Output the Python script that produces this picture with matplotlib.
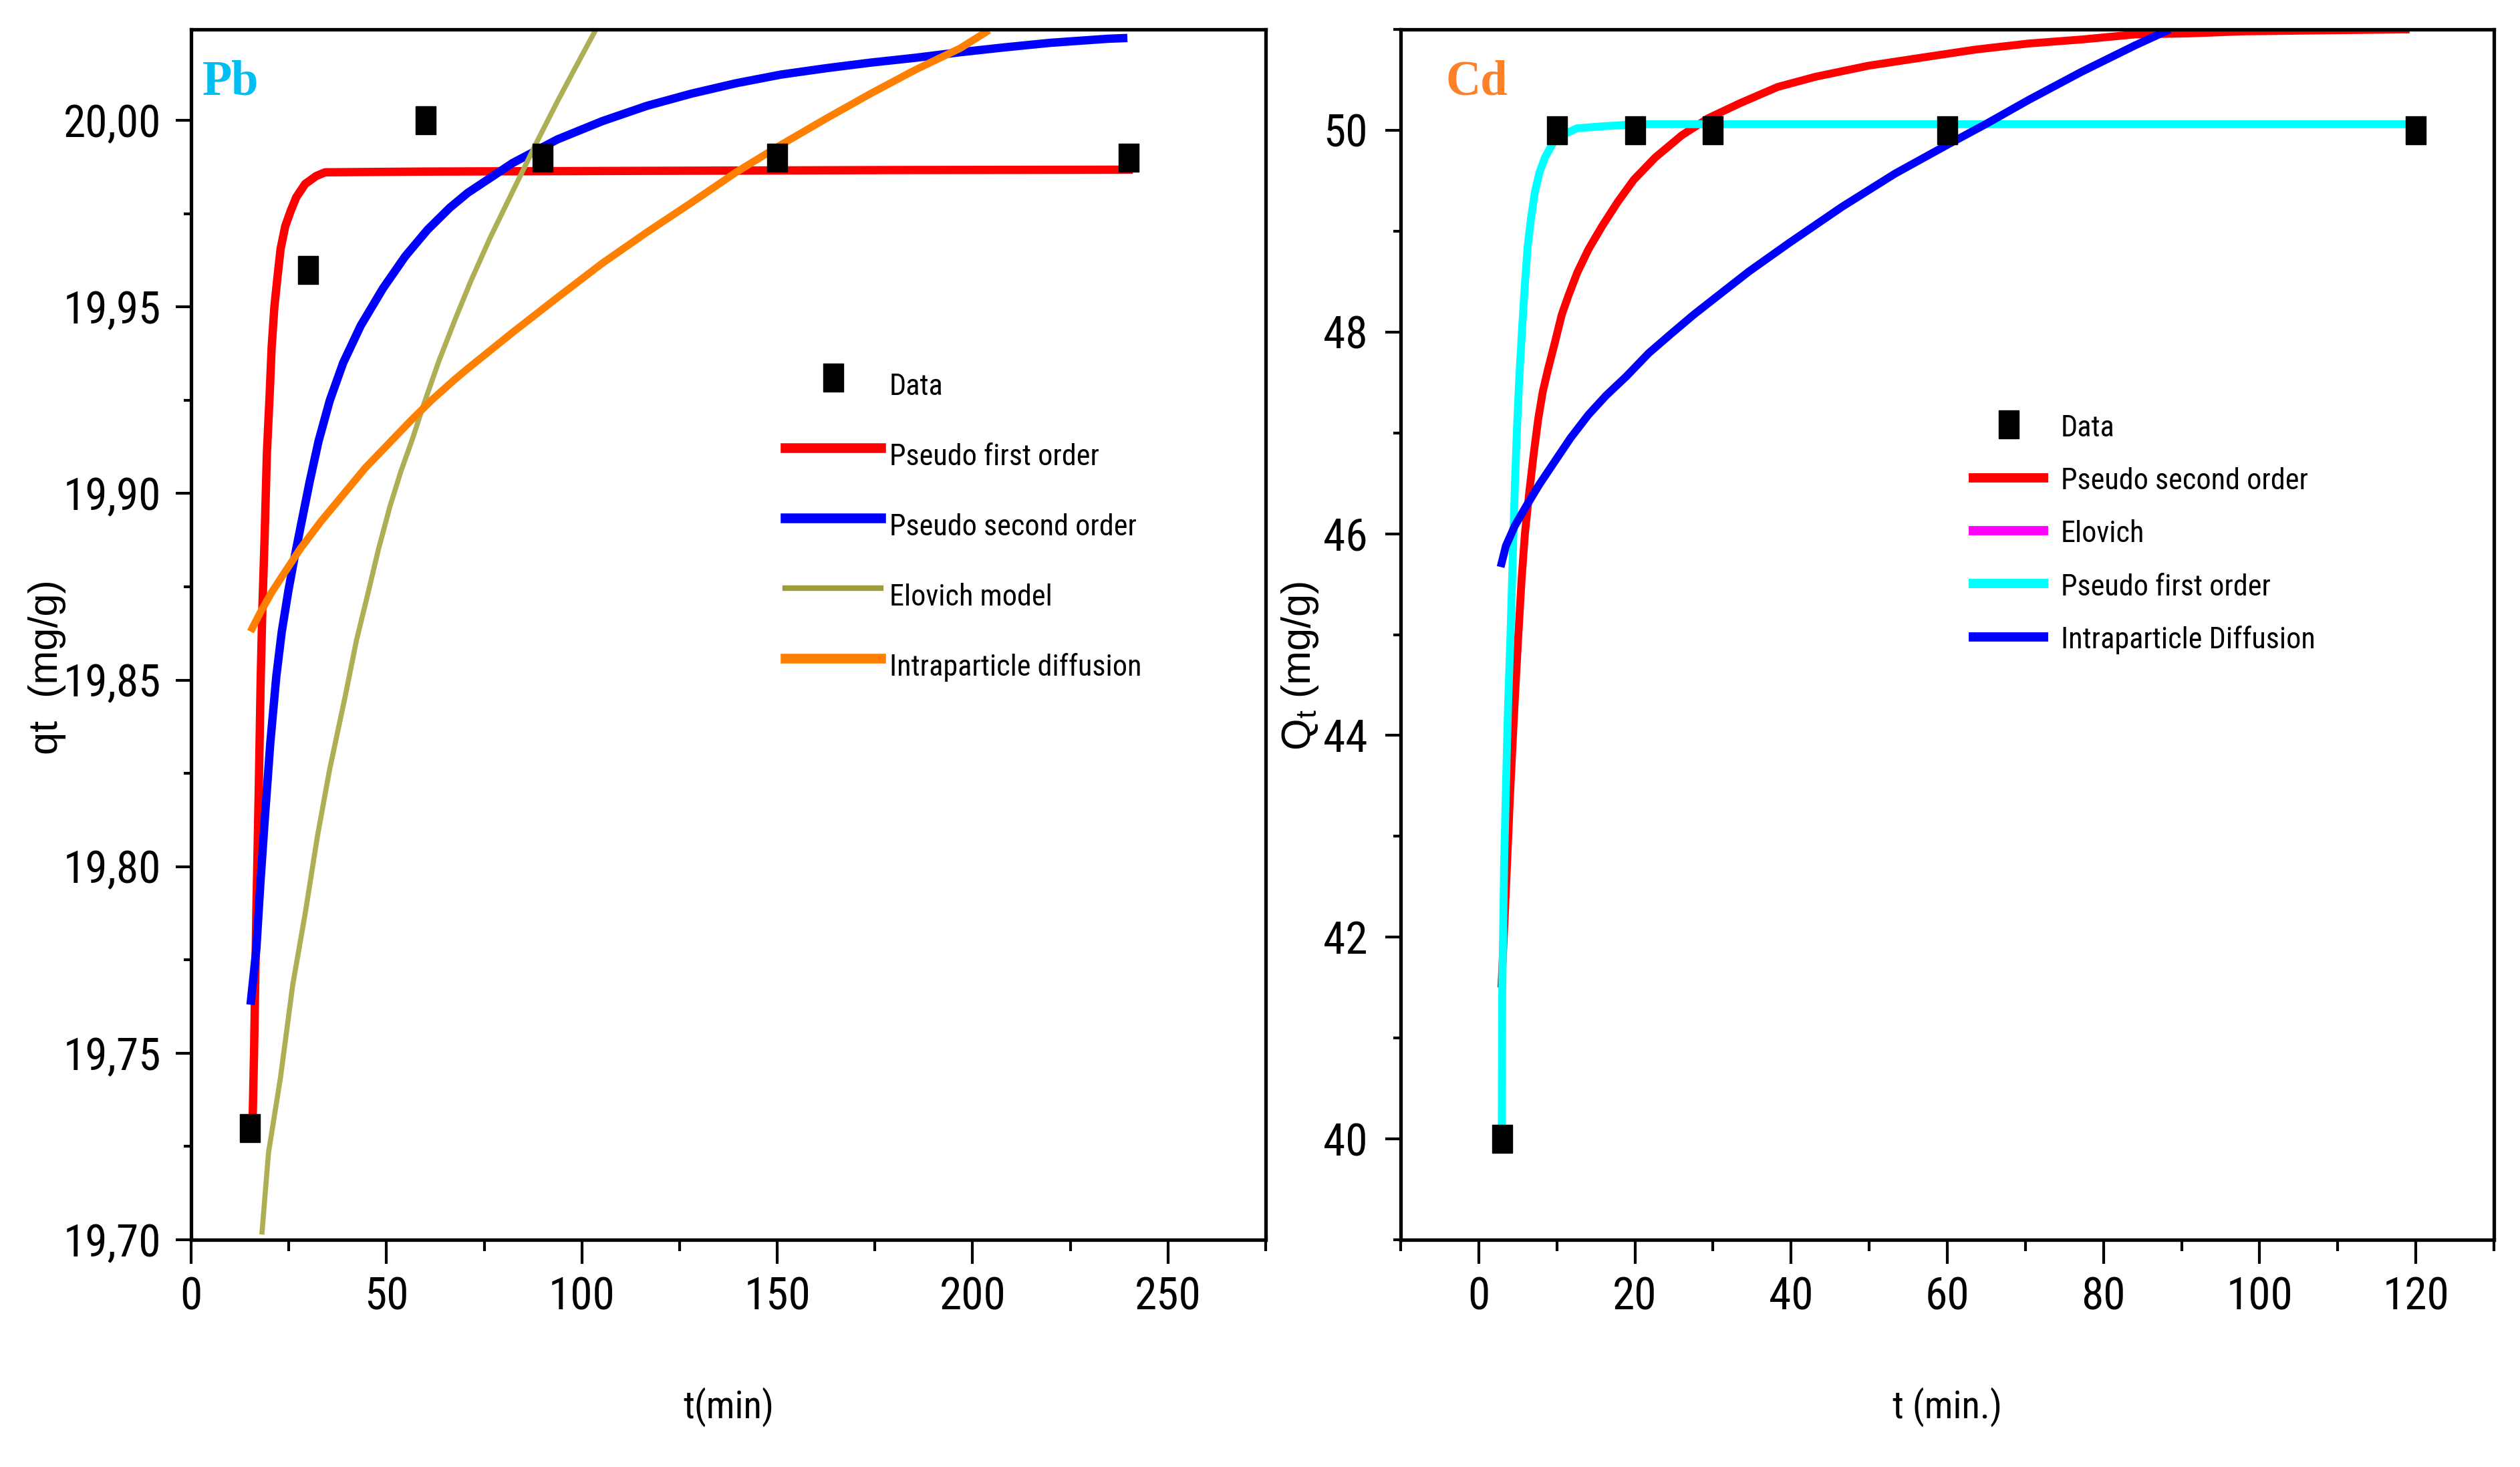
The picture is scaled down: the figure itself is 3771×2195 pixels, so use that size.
import matplotlib
matplotlib.use("Agg")
import matplotlib.pyplot as plt
from matplotlib import font_manager
from matplotlib.font_manager import FontProperties
from matplotlib.textpath import TextPath
from matplotlib.lines import Line2D
from matplotlib.ticker import MultipleLocator, FixedLocator, FixedFormatter

# ---------------- data ----------------
# Pb panel
pb_t = [15, 30, 60, 90, 150, 240]
pb_q = [19.73, 19.96, 20.00, 19.99, 19.99, 19.99]

pb_pfo_t = [15.3, 15.7, 16.1, 16.7, 17.3, 17.8, 18.2, 18.8, 19.4, 20.1, 20.6, 21.3, 22.1,
            22.9, 24.1, 25.5, 26.9, 29.2, 32.0, 34.3, 60, 120, 180, 241]
pb_pfo_q = [19.728, 19.730, 19.750, 19.788, 19.820, 19.850, 19.868, 19.888, 19.911, 19.9265,
            19.939, 19.950, 19.958, 19.9656, 19.9717, 19.9758, 19.9794, 19.983, 19.9851,
            19.9861, 19.9863, 19.9865, 19.9867, 19.9868]

pb_pso_t = [15.2, 16.7, 17.75, 18.8, 20.25, 21.8, 23.2, 24.9, 26.3, 28.0, 30.3, 32.6, 35.5,
            38.9, 43.4, 49.1, 54.8, 60.5, 66.2, 70.8, 82.3, 93.7, 105.2, 116.6, 128.1, 139.6,
            151.0, 162.5, 173.9, 185.4, 196.9, 208.3, 219.8, 234.7, 239.6]
pb_pso_q = [19.763, 19.778, 19.796, 19.812, 19.833, 19.851, 19.863, 19.874, 19.882, 19.891,
            19.903, 19.914, 19.925, 19.935, 19.945, 19.955, 19.9636, 19.9707, 19.9766, 19.9806,
            19.9886, 19.9949, 19.9998, 20.0039, 20.0072, 20.0100, 20.0123, 20.0140, 20.0155,
            20.0168, 20.0183, 20.0196, 20.0208, 20.0219, 20.0221]

pb_elo_t = [18.1, 19.8, 22.9, 26.0, 29.2, 32.3, 35.4, 39.5, 42.3, 45.2, 48.0, 50.9, 53.7,
            56.6, 59.4, 63.4, 67.5, 71.6, 76.5, 82.3, 88.6, 93.7, 98.0, 103.6]
pb_elo_q = [19.7014, 19.7233, 19.7437, 19.7683, 19.7875, 19.808, 19.8258, 19.846, 19.8606,
            19.873, 19.8853, 19.8966, 19.906, 19.9145, 19.9235, 19.9355, 19.9465, 19.957,
            19.9685, 19.981, 19.9945, 20.005, 20.0135, 20.0244]

pb_ipd_t = [15.2, 17.8, 20.6, 24.1, 28.0, 33.2, 38.9, 44.6, 50.3, 56.0, 61.7, 67.4, 70.8,
            82.3, 93.7, 105.2, 116.6, 128.1, 139.6, 151.0, 162.5, 173.9, 185.4, 196.9, 204.2]
pb_ipd_q = [19.863, 19.8683, 19.8735, 19.8791, 19.8853, 19.8925, 19.8997, 19.9069, 19.9131,
            19.9193, 19.9252, 19.9305, 19.9335, 19.9432, 19.9525, 19.9617, 19.970, 19.978,
            19.9862, 19.9935, 20.0005, 20.0072, 20.0136, 20.0194, 20.0242]

# Cd panel
cd_t = [3, 10, 20, 30, 60, 120]
cd_q = [40.0, 50.0, 50.0, 50.0, 50.0, 50.0]

cd_pso_t = [2.9, 3.5, 4.0, 4.6, 5.05, 5.48, 5.91, 6.48, 7.05, 7.62, 8.2, 8.9, 9.76, 10.62,
            11.48, 12.62, 14.05, 15.8, 17.8, 19.86, 22.6, 26.0, 29.4, 33.5, 38.3, 43.1, 49.9,
            56.7, 63.6, 70.4, 77.2, 84.0, 90.9, 97.7, 107.9, 119.2]
cd_pso_q = [41.5, 42.5, 43.4, 44.33, 44.97, 45.54, 46.0, 46.42, 46.8, 47.14, 47.41, 47.64,
            47.90, 48.17, 48.36, 48.59, 48.82, 49.05, 49.29, 49.51, 49.73, 49.95, 50.12, 50.27,
            50.43, 50.53, 50.64, 50.72, 50.80, 50.86, 50.90, 50.95, 50.96, 50.98, 50.99, 51.0]

cd_pfo_t = [2.95, 3.0, 3.25, 3.6, 3.77, 4.05, 4.34, 4.63, 4.91, 5.2, 5.54, 5.91, 6.28, 6.68,
            7.19, 7.77, 8.48, 9.48, 10.9, 12.6, 16.0, 20.3, 60, 120]
cd_pfo_q = [40.1, 41.42, 42.74, 43.85, 44.33, 44.97, 45.73, 46.49, 47.07, 47.56, 48.02, 48.48,
            48.86, 49.12, 49.39, 49.58, 49.73, 49.87, 49.96, 50.02, 50.04, 50.06, 50.06, 50.06]

cd_ipd_t = [2.8, 3.48, 4.63, 6.05, 7.77, 9.76, 11.76, 14.05, 16.3, 18.9, 21.76, 24.6, 27.5,
            30.3, 34.6, 39.7, 46.5, 53.3, 60.1, 64.9, 70.4, 77.2, 84.0, 88.5]
cd_ipd_q = [45.67, 45.88, 46.08, 46.27, 46.49, 46.72, 46.95, 47.18, 47.37, 47.56, 47.79, 47.98,
            48.17, 48.34, 48.60, 48.88, 49.24, 49.57, 49.86, 50.06, 50.30, 50.58, 50.84, 51.0]

pb_yticks = [19.70, 19.75, 19.80, 19.85, 19.90, 19.95, 20.00]
pb_ylabels = ['19,70', '19,75', '19,80', '19,85', '19,90', '19,95', '20,00']

pb_legend = ['Data', 'Pseudo first order', 'Pseudo second order', 'Elovich model',
             'Intraparticle diffusion']
cd_legend = ['Data', 'Pseudo second order', 'Elovich', 'Pseudo first order',
             'Intraparticle Diffusion']

# ---------------- fonts ----------------
entries = font_manager.fontManager.ttflist
names = {f.name for f in entries}
narrow = None
for cand in ['Liberation Sans Narrow', 'Arial Narrow', 'Roboto Condensed',
             'Noto Sans Condensed', 'DejaVu Sans Condensed', 'Open Sans Condensed']:
    if cand in names:
        narrow = FontProperties(family=cand)
        break
if narrow is None:
    for f in entries:
        if f.stretch in ('condensed', 'semi-condensed') and f.style == 'normal' \
                and str(f.weight) in ('400', 'normal', 'regular'):
            narrow = FontProperties(family=f.name, stretch=f.stretch)
            break
if narrow is None:
    narrow = FontProperties(family='Liberation Sans')

plt.rcParams['font.family'] = [narrow.get_family()[0], 'DejaVu Sans']
plt.rcParams['font.stretch'] = narrow.get_stretch()
plt.rcParams['mathtext.fontset'] = 'custom'
plt.rcParams['mathtext.rm'] = 'Liberation Sans'
plt.rcParams['mathtext.it'] = 'Liberation Sans:italic'


def fit_size(text, prop, width_px, height_px, ref_char, cap=1.05):
    # font size (pt, dpi 100) that balances the target ink width and height
    w = TextPath((0, 0), text, size=100, prop=prop).get_extents().width
    h = TextPath((0, 0), ref_char, size=100, prop=prop).get_extents().height
    sw = 100 * width_px * 0.72 / w
    sh = 100 * height_px * 0.72 / h
    return min((sw * sh) ** 0.5, sw * cap)


TICK_FS = fit_size('20,00', narrow, 134, 56, '0', cap=1.04)
XLAB_FS = fit_size('t(min)', narrow, 126, 61, '(', cap=1.08)
LEG_FS = fit_size('Pseudo second order', narrow, 345, 35, 'P', cap=1.06)
serif_b = FontProperties(family='Liberation Serif', weight='bold')
TAG_FS = fit_size('Pb', serif_b, 70, 57, 'P', cap=1.15)
YLAB_FS = 44

# rectangle marker, taller than wide
rect = [(-0.357, -0.5), (0.357, -0.5), (0.357, 0.5), (-0.357, 0.5), (-0.357, -0.5)]
MS = 30

fig = plt.figure(figsize=(37.71, 21.95), dpi=100)
AX_BOTTOM, AX_H = 1855, 1811
ax1 = fig.add_axes([286 / 3771, 1 - AX_BOTTOM / 2195, 1608 / 3771, AX_H / 2195])
ax2 = fig.add_axes([2096 / 3771, 1 - AX_BOTTOM / 2195, 1636 / 3771, AX_H / 2195])


def style_axes(ax, ypad):
    for sp in ax.spines.values():
        sp.set_linewidth(3.8)
    ax.tick_params(axis='both', which='both', direction='out', top=False, right=False,
                   width=3, labelsize=TICK_FS)
    ax.tick_params(axis='x', which='major', length=26, pad=13)
    ax.tick_params(axis='x', which='minor', length=12.5)
    ax.tick_params(axis='y', which='major', length=16.5, pad=ypad)
    ax.tick_params(axis='y', which='minor', length=8)


def legend_layout(line_above_px, pitch_px, baseline_px):
    # handleheight / labelspacing / top anchor for given row geometry (pixels)
    F = LEG_FS / 0.72
    H = max((line_above_px / F - 0.245) / 0.15, 0.7)
    row = max(F * (0.65 * H + 0.245), F)
    ls = (pitch_px - row) / F
    top = baseline_px - max(2 * line_above_px, 0.86 * F)
    return H, ls, (AX_BOTTOM - top) / AX_H, F


# ---------------- Pb ----------------
ax1.plot(pb_pfo_t, pb_pfo_q, color='#FF0000', lw=9, solid_capstyle='butt')
ax1.plot(pb_pso_t, pb_pso_q, color='#0000FF', lw=9, solid_capstyle='butt')
ax1.plot(pb_elo_t, pb_elo_q, color='#AEAE55', lw=5.5, solid_capstyle='butt')
ax1.plot(pb_ipd_t, pb_ipd_q, color='#FF8000', lw=8, solid_capstyle='butt')
ax1.plot(pb_t, pb_q, ls='none', marker=rect, ms=MS, color='black', zorder=5)

ax1.set_xlim(0, 275)
ax1.set_ylim(19.70, 20.0244)
ax1.xaxis.set_major_locator(MultipleLocator(50))
ax1.xaxis.set_minor_locator(MultipleLocator(25))
ax1.yaxis.set_major_locator(FixedLocator(pb_yticks))
ax1.yaxis.set_major_formatter(FixedFormatter(pb_ylabels))
ax1.yaxis.set_minor_locator(MultipleLocator(0.025))
style_axes(ax1, 16)

ax1.set_xlabel('t(min)', fontsize=XLAB_FS, va='center')
ax1.xaxis.set_label_coords(0.5, -0.138)
ax1.set_ylabel('qt  (mg/g)', fontsize=YLAB_FS, family='Liberation Sans', va='center')
ax1.yaxis.set_label_coords(-0.134, 0.473)

ax1.text(0.0106, 0.9459, 'Pb', transform=ax1.transAxes, ha='left', va='baseline',
         fontproperties=serif_b, fontsize=TAG_FS, color='#00BEF2')

H1, LS1, TOP1, F = legend_layout(26, 105, 591)
h1 = [Line2D([], [], ls='none', marker=rect, ms=MS, color='black'),
      Line2D([], [], color='#FF0000', lw=10.5),
      Line2D([], [], color='#0000FF', lw=10.5),
      Line2D([], [], color='#9C9C3A', lw=6),
      Line2D([], [], color='#FF8000', lw=10.5)]
ax1.legend(h1, pb_legend, loc='upper left', bbox_to_anchor=((1175 - 286) / 1608, TOP1),
           frameon=False, fontsize=LEG_FS, borderpad=0, borderaxespad=0,
           handlelength=143 / F, handletextpad=13 / F, handleheight=H1, labelspacing=LS1)

# ---------------- Cd ----------------
ax2.plot(cd_pso_t, cd_pso_q, color='#FF0000', lw=8.5, solid_capstyle='butt')
ax2.plot(cd_pfo_t, cd_pfo_q, color='#00FFFF', lw=8.5, solid_capstyle='butt')
ax2.plot(cd_ipd_t, cd_ipd_q, color='#0000FF', lw=8.5, solid_capstyle='butt')
ax2.plot(cd_t, cd_q, ls='none', marker=rect, ms=MS, color='black', zorder=5)

ax2.set_xlim(-10, 130)
ax2.set_ylim(39, 51)
ax2.xaxis.set_major_locator(MultipleLocator(20))
ax2.xaxis.set_minor_locator(MultipleLocator(10))
ax2.yaxis.set_major_locator(MultipleLocator(2))
ax2.yaxis.set_minor_locator(MultipleLocator(1))
style_axes(ax2, 19)

ax2.set_xlabel('t (min.)', fontsize=XLAB_FS, va='center')
ax2.xaxis.set_label_coords(0.5, -0.138)
ax2.set_ylabel(r'Q$_\mathrm{t}$ (mg/g)', fontsize=YLAB_FS, family='Liberation Sans',
               va='center')
ax2.yaxis.set_label_coords(-0.092, 0.474)

ax2.text(0.041, 0.9459, 'Cd', transform=ax2.transAxes, ha='left', va='baseline',
         fontproperties=serif_b, fontsize=TAG_FS, color='#FF8026')

H2, LS2, TOP2, F = legend_layout(17.5, 79.5, 656)
h2 = [Line2D([], [], ls='none', marker=rect, ms=MS, color='black'),
      Line2D([], [], color='#FF0000', lw=10),
      Line2D([], [], color='#FF00FF', lw=10),
      Line2D([], [], color='#00FFFF', lw=10),
      Line2D([], [], color='#0000FF', lw=10)]
ax2.legend(h2, cd_legend, loc='upper left', bbox_to_anchor=((2953 - 2096) / 1636, TOP2),
           frameon=False, fontsize=LEG_FS, borderpad=0, borderaxespad=0,
           handlelength=105 / F, handletextpad=26 / F, handleheight=H2, labelspacing=LS2)

fig.savefig('out.png', dpi=100)
